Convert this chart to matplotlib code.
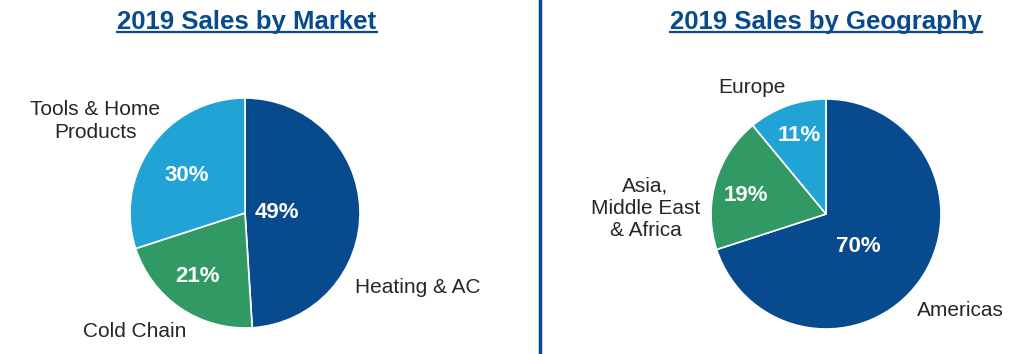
import matplotlib
matplotlib.use("Agg")
import matplotlib.pyplot as plt
from matplotlib.lines import Line2D

plt.rcParams['font.family'] = ['Liberation Sans', 'DejaVu Sans']

# data
market_labels = ["Heating & AC", "Cold Chain", "Tools & Home\nProducts"]
market_values = [49, 21, 30]
geo_labels = ["Americas", "Asia,\nMiddle East\n& Africa", "Europe"]
geo_values = [70, 19, 11]

DARK = "#084a8e"
LIGHT = "#22a3d5"
GREEN = "#319a64"
TXT = "#262626"
colors = [DARK, GREEN, LIGHT]

W, H = 1024, 354
fig = plt.figure(figsize=(W / 100, H / 100), dpi=100)
R = 115


def pie_axes(cx, cy):
    # pie box in pixels, cy measured from top
    return fig.add_axes([(cx - R) / W, (H - cy - R) / H, 2 * R / W, 2 * R / H])


def draw_pie(ax, values, labels, label_pos, label_ha, pct_pos):
    wedges, texts, autotexts = ax.pie(
        values, colors=colors, startangle=90, counterclock=False,
        labels=labels, autopct="%d%%",
        wedgeprops=dict(edgecolor="white", linewidth=1.2),
        textprops=dict(fontsize=15, color=TXT))
    for t, p, ha in zip(texts, label_pos, label_ha):
        t.set_position(p)
        t.set_ha(ha)
        t.set_va("center")
        t.set_multialignment("center")
        t.set_linespacing(1.25)
    for t, p in zip(autotexts, pct_pos):
        t.set_position(p)
        t.set_color("white")
        t.set_fontweight("bold")
        t.set_fontsize(16)
        t.set_ha("center")
        t.set_va("center")
    ax.set_xlim(-1, 1)
    ax.set_ylim(-1, 1)
    ax.set_aspect("equal")
    ax.axis("off")


ax1 = pie_axes(245, 213)
draw_pie(ax1, market_values, market_labels,
         [(0.955, -0.65), (-0.96, -1.03), (-1.30, 0.80)],
         ["left", "center", "center"],
         [(0.28, 0.0), (-0.41, -0.55), (-0.51, 0.33)])

ax2 = pie_axes(826, 214)
draw_pie(ax2, geo_values, geo_labels,
         [(1.17, -0.84), (-1.57, 0.05), (-0.64, 1.10)],
         ["center", "center", "center"],
         [(0.28, -0.28), (-0.70, 0.16), (-0.23, 0.68)])

# titles with underline
titles = ["2019 Sales by Market", "2019 Sales by Geography"]
title_x = [247, 826]
renderer = fig.canvas.get_renderer()
for txt, x in zip(titles, title_x):
    t = fig.text(x / W, 1 - 29 / H, txt, ha="center", va="baseline",
                 fontsize=18.5, fontweight="bold", color=DARK)
    bb = t.get_window_extent(renderer=renderer)
    y = 1 - 32 / H
    fig.add_artist(Line2D([bb.x0 / W, bb.x1 / W], [y, y], color=DARK, lw=1.6))

# vertical divider
fig.add_artist(Line2D([540 / W, 540 / W], [0, 1], color=DARK, lw=2.5))

fig.savefig("out.png", dpi=100, facecolor="white")
